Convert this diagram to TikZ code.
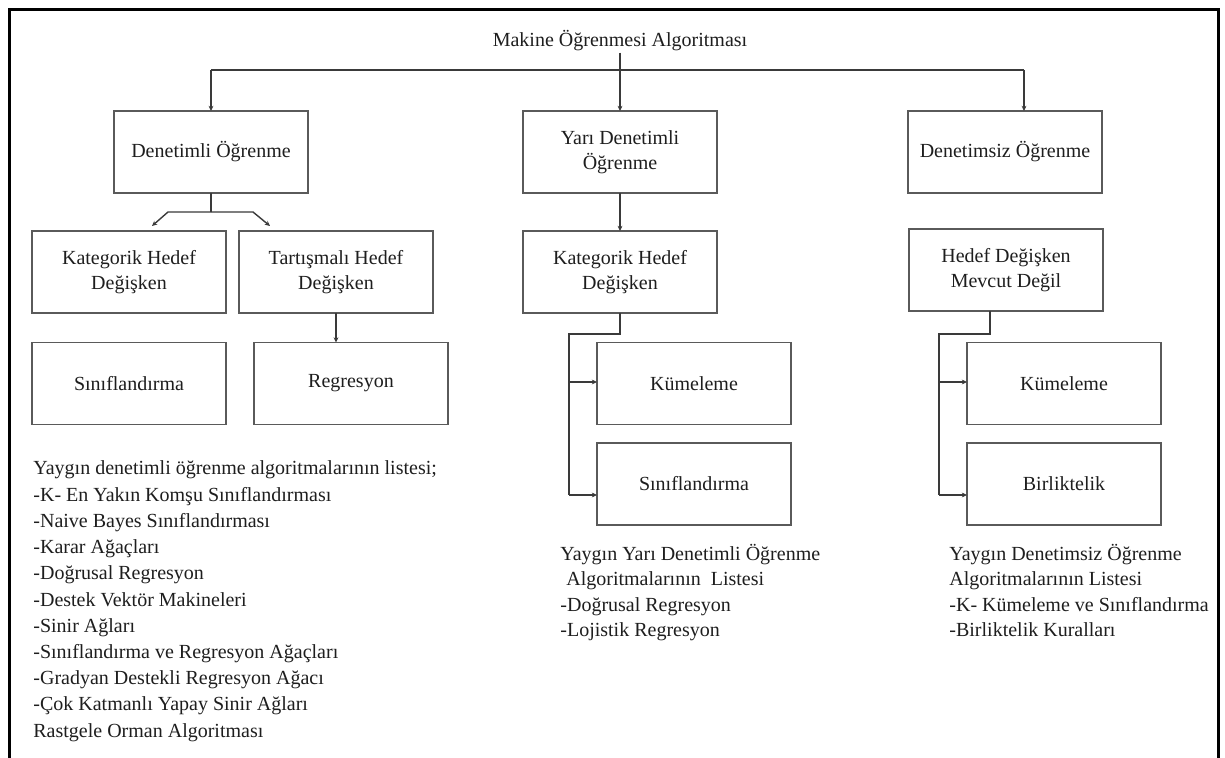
\documentclass[tikz,border=0pt]{standalone}
\usepackage{fontspec}
\setmainfont{Liberation Serif}
\usetikzlibrary{arrows.meta}
\definecolor{ink}{HTML}{1E1E1E}
\definecolor{edge}{HTML}{5A5A5A}
\definecolor{wire}{HTML}{3A3A3A}
\begin{document}
\begin{tikzpicture}[x=0.5pt,y=-0.5pt,
  every node/.style={text=ink, font=\fontsize{10pt}{12.5pt}\selectfont},
  box/.style={draw=edge, line width=0.75pt, minimum width=97pt, minimum height=41pt,
              inner sep=0pt, outer sep=0pt, align=center},
  wire/.style={draw=wire, line width=0.7pt},
  arr/.style={wire, -{Stealth[length=2.6pt,width=2.4pt]}},
  listline/.style={anchor=base west, inner sep=0pt}
]
\useasboundingbox (0,0) rectangle (1225,758);
\fill[white] (0,0) rectangle (1225,758);
\clip (0,0) rectangle (1225,758);

% open frame (no bottom edge)
\draw[line width=1.5pt] (9,770) -- (9,10) -- (1218,10) -- (1218,770);

% root label
\node[anchor=base, inner sep=0.5pt] (root) at (620,47) {Makine Öğrenmesi Algoritması};

% first level
\node[box] (dl)  at (211,152)  {Denetimli Öğrenme};
\node[box] (ydl) at (620,152)  {Yarı Denetimli\\Öğrenme};
\node[box] (dsz) at (1005,152) {Denetimsiz Öğrenme};

% supervised branch
\node[box] (kat1) at (129,272)   {Kategorik Hedef\\Değişken};
\node[box] (tart) at (336,272)   {Tartışmalı Hedef\\Değişken};
\node[box] (sin1) at (129,383.5) {Sınıflandırma};
\node[box] (reg)  at (351,383.5) {Regresyon};

% semi-supervised branch
\node[box] (kat2) at (620,272)   {Kategorik Hedef\\Değişken};
\node[box] (kum2) at (694,383.5) {Kümeleme};
\node[box] (sin2) at (694,484)   {Sınıflandırma};

% unsupervised branch
\node[box] (hdm)  at (1006,270)   {Hedef Değişken\\Mevcut Değil};
\node[box] (kum3) at (1064,383.5) {Kümeleme};
\node[box] (bir)  at (1064,484)   {Birliktelik};

% root connectors
\coordinate (busL) at (211,70);
\coordinate (busR) at (1024,70);
\draw[wire] (busL) -- (busR);
\draw[arr] (root.south) -- (ydl.north);
\draw[arr] (busL) -- (dl.north);
\draw[arr] (busR) -- (busR |- dsz.north);

% supervised split
\coordinate (dlJ) at (211,212);
\coordinate (dlL) at (168,212);
\coordinate (dlR) at (253,212);
\coordinate (katTip) at (152,226);
\coordinate (tartTip) at (270,226);
\draw[wire] (dl.south) -- (dlJ);
\draw[arr] (dlJ) -- (dlL) -- (katTip);
\draw[arr] (dlJ) -- (dlR) -- (tartTip);
\draw[arr] (tart.south) -- (tart.south |- reg.north);

% semi-supervised tree
\draw[arr] (ydl.south) -- (kat2.north);
\coordinate (mTrunk) at (569,334);
\coordinate (mMid) at (569,382);
\coordinate (mLow) at (569,495);
\draw[wire] (kat2.south) |- (mTrunk) -- (mLow);
\draw[arr] (mMid) -- (mMid -| kum2.west);
\draw[arr] (mLow) -- (mLow -| sin2.west);

% unsupervised tree
\path (hdm.south) ++(-16,0) coordinate (rDrop);
\coordinate (rTrunk) at (939,334);
\coordinate (rMid) at (939,382);
\coordinate (rLow) at (939,495);
\draw[wire] (rDrop) |- (rTrunk) -- (rLow);
\draw[arr] (rMid) -- (rMid -| kum3.west);
\draw[arr] (rLow) -- (rLow -| bir.west);

% algorithm lists
\foreach \t [count=\i from 0] in {
  Yaygın denetimli öğrenme algoritmalarının listesi;,
  -K- En Yakın Komşu Sınıflandırması,
  -Naive Bayes Sınıflandırması,
  -Karar Ağaçları,
  -Doğrusal Regresyon,
  -Destek Vektör Makineleri,
  -Sinir Ağları,
  -Sınıflandırma ve Regresyon Ağaçları,
  -Gradyan Destekli Regresyon Ağacı,
  -Çok Katmanlı Yapay Sinir Ağları,
  Rastgele Orman Algoritması}
  \node[listline] (sup-\i) at (33, 475+26.2*\i) {\t};

\node[listline] (semi-0) at (560,560)   {Yaygın Yarı Denetimli Öğrenme};
\node[listline] (semi-1) at (566,585.6) {Algoritmalarının\ \ Listesi};
\node[listline] (semi-2) at (560,611.2) {-Doğrusal Regresyon};
\node[listline] (semi-3) at (560,636.8) {-Lojistik Regresyon};

\node[listline] (uns-0) at (949,560)   {Yaygın Denetimsiz Öğrenme};
\node[listline] (uns-1) at (949,585.6) {Algoritmalarının Listesi};
\node[listline] (uns-2) at (949,611.2) {-K- Kümeleme ve Sınıflandırma};
\node[listline] (uns-3) at (949,636.8) {-Birliktelik Kuralları};
\end{tikzpicture}
\end{document}
